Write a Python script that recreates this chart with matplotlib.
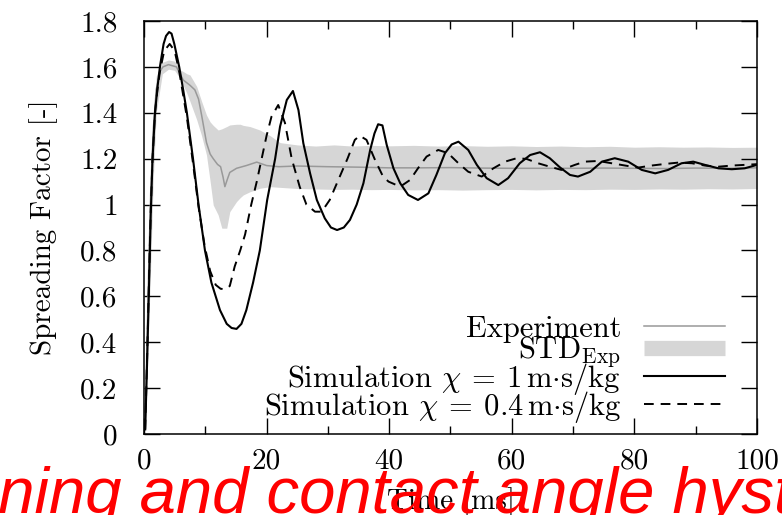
import numpy as np
import matplotlib
matplotlib.use("Agg")
from matplotlib import pyplot as plt
from matplotlib.lines import Line2D
from matplotlib.ticker import MultipleLocator, FuncFormatter

# data  (time in ms, spreading factor [-])
t_exp = [0.2, 0.5, 0.8, 1.1, 1.5, 2.0, 2.6, 3.1, 4.0, 5.3,
         6.4, 7.5, 8.3, 8.9, 9.4, 9.8, 10.2, 10.8, 11.3, 12.0,
         12.5, 12.9, 13.2, 13.6, 14.0, 15.1, 16.7, 18.4, 20.0, 22.0,
         25, 30, 35, 40, 45, 50, 55, 60, 65, 70,
         75, 80, 85, 90, 95, 100]
y_exp = [0.05, 0.40, 0.75, 1.05, 1.32, 1.50, 1.58, 1.60, 1.61, 1.60,
         1.543, 1.52, 1.50, 1.46, 1.39, 1.33, 1.27, 1.22, 1.20, 1.175,
         1.165, 1.12, 1.078, 1.11, 1.14, 1.158, 1.17, 1.185, 1.17, 1.165,
         1.168, 1.165, 1.163, 1.16, 1.16, 1.161, 1.159, 1.158, 1.158, 1.158,
         1.159, 1.158, 1.157, 1.159, 1.158, 1.16]

t_std = [0.2, 0.5, 1.0, 1.5, 2.0, 3.0, 4.0, 5.0, 5.9, 6.4,
         7.0, 7.5, 8.6, 9.4, 10.2, 10.8, 11.3, 12.1, 12.7, 13.5,
         14.0, 15.1, 15.7, 16.2, 17.3, 18.9, 20.6, 22.2, 25, 28,
         31, 34, 37, 40, 44, 48, 52, 56, 60, 64,
         68, 72, 76, 80, 84, 88, 92, 96, 100]
std_hi = [0.12, 0.50, 0.95, 1.38, 1.56, 1.62, 1.63, 1.625, 1.587, 1.58,
          1.57, 1.565, 1.515, 1.45, 1.39, 1.36, 1.345, 1.325, 1.33, 1.34,
          1.347, 1.35, 1.35, 1.345, 1.34, 1.325, 1.30, 1.27, 1.26, 1.255,
          1.26, 1.255, 1.258, 1.256, 1.258, 1.255, 1.257, 1.254, 1.256, 1.253,
          1.255, 1.252, 1.254, 1.25, 1.252, 1.25, 1.251, 1.249, 1.25]
std_lo = [0.0, 0.25, 0.65, 1.10, 1.40, 1.57, 1.59, 1.585, 1.55, 1.52,
          1.485, 1.45, 1.37, 1.30, 1.216, 1.10, 0.998, 0.955, 0.897, 0.897,
          0.969, 1.013, 1.03, 1.042, 1.056, 1.071, 1.078, 1.075, 1.07, 1.068,
          1.066, 1.067, 1.065, 1.066, 1.064, 1.065, 1.063, 1.065, 1.066, 1.064,
          1.066, 1.065, 1.067, 1.066, 1.068, 1.067, 1.069, 1.068, 1.07]

# simulation chi = 1 m s/kg
t_sim1 = [0.2, 0.5, 0.8, 1.1, 1.4, 1.8, 2.2, 2.6, 3.2, 3.6,
          4.1, 4.5, 4.95, 5.75, 6.4, 7.0, 8.0, 8.9, 9.95, 11.0,
          12.4, 13.5, 14.3, 15.1, 15.9, 16.7, 17.8, 18.9, 20.1, 21.4,
          22.2, 23.3, 24.3, 25.2, 26.0, 27.1, 28.2, 29.5, 30.5, 31.5,
          32.6, 33.6, 34.7, 35.8, 36.9, 37.6, 38.2, 38.9, 39.6, 40.7,
          41.8, 43.1, 44.7, 46.4, 47.7, 49.1, 50.2, 51.3, 52.9, 54.3,
          55.9, 57.8, 59.4, 61.3, 63.0, 64.6, 66.2, 67.9, 69.5, 70.8,
          72.8, 74.7, 76.8, 79.0, 81.2, 83.4, 85.5, 87.7, 89.6, 91.5,
          93.7, 95.9, 98.0, 100.0]
y_sim1 = [0.02, 0.30, 0.62, 0.95, 1.20, 1.40, 1.51, 1.60, 1.70, 1.735,
          1.752, 1.745, 1.70, 1.60, 1.50, 1.40, 1.20, 1.00, 0.80, 0.66,
          0.54, 0.48, 0.462, 0.458, 0.48, 0.54, 0.66, 0.80, 1.02, 1.20,
          1.34, 1.456, 1.495, 1.412, 1.267, 1.136, 1.02, 0.94, 0.90, 0.889,
          0.90, 0.933, 1.00, 1.093, 1.238, 1.31, 1.35, 1.345, 1.26, 1.158,
          1.093, 1.042, 1.02, 1.049, 1.129, 1.224, 1.262, 1.274, 1.238, 1.173,
          1.115, 1.085, 1.115, 1.18, 1.216, 1.228, 1.202, 1.161, 1.129, 1.122,
          1.143, 1.187, 1.202, 1.187, 1.151, 1.136, 1.151, 1.18, 1.187, 1.173,
          1.158, 1.154, 1.158, 1.173]

# simulation chi = 0.4 m s/kg
t_sim2 = [0.2, 0.5, 0.8, 1.1, 1.4, 1.8, 2.2, 2.6, 3.3, 4.2,
          5.0, 5.75, 7.0, 8.0, 8.9, 9.9, 10.8, 11.7, 12.5, 13.2,
          14.0, 14.8, 15.7, 16.5, 17.5, 18.4, 19.2, 20.0, 20.8, 21.9,
          23.0, 24.1, 25.4, 26.5, 27.9, 29.0, 30.3, 31.7, 33.2, 34.4,
          35.2, 36.3, 37.7, 39.0, 39.9, 41.8, 43.4, 44.7, 46.1, 48.0,
          49.6, 51.3, 52.9, 55.1, 57.0, 58.9, 60.8, 62.4, 64.3, 66.2,
          68.1, 70.3, 71.9, 74.1, 76.3, 78.5, 80.6, 82.8, 85.0, 87.2,
          89.4, 91.5, 93.7, 95.9, 98.0, 100.0]
y_sim2 = [0.02, 0.32, 0.65, 0.97, 1.20, 1.40, 1.50, 1.58, 1.67, 1.70,
          1.67, 1.58, 1.38, 1.18, 0.99, 0.82, 0.71, 0.65, 0.633, 0.631,
          0.645, 0.73, 0.80, 0.87, 1.00, 1.10, 1.20, 1.30, 1.383, 1.434,
          1.356, 1.20, 1.078, 1.00, 0.969, 0.969, 1.02, 1.107, 1.20, 1.282,
          1.30, 1.282, 1.194, 1.122, 1.10, 1.078, 1.107, 1.158, 1.209, 1.238,
          1.224, 1.18, 1.143, 1.122, 1.158, 1.187, 1.202, 1.199, 1.18, 1.165,
          1.151, 1.173, 1.187, 1.19, 1.18, 1.17, 1.161, 1.17, 1.177, 1.183,
          1.18, 1.17, 1.165, 1.17, 1.173, 1.176]

LABELS = ['Experiment', r'STD$_{\mathrm{Exp}}$',
          r'Simulation $\chi\: =\: 1\,\mathrm{m{\cdot}s/kg}$',
          r'Simulation $\chi\: =\: 0.4\,\mathrm{m{\cdot}s/kg}$']
OVERLAY = 'nning and contact angle hyst'

FS = 21
plt.rcParams['font.family'] = 'cmr10'
plt.rcParams['mathtext.fontset'] = 'cm'
plt.rcParams['axes.formatter.use_mathtext'] = True
plt.rcParams['lines.scale_dashes'] = False

fig = plt.figure(figsize=(7.82, 5.15), dpi=100)
ax = fig.add_axes([0.1841, 0.1573, 0.7839, 0.8019])

band_col = '#d6d6d6'
exp_col = '#999999'
ax.fill_between(t_std, std_lo, std_hi, color=band_col, lw=0)
ax.plot(t_exp, y_exp, color=exp_col, lw=1.1)
ax.plot(t_sim1, y_sim1, color='black', lw=1.5)
ax.plot(t_sim2, y_sim2, color='black', lw=1.4, dashes=(7, 5))

ax.set_xlim(0, 100)
ax.set_ylim(0, 1.8)
ax.xaxis.set_major_locator(MultipleLocator(20))
ax.xaxis.set_minor_locator(MultipleLocator(10))
ax.yaxis.set_major_locator(MultipleLocator(0.2))
fmt = FuncFormatter(lambda v, p: '%g' % round(v, 3))
ax.xaxis.set_major_formatter(fmt)
ax.yaxis.set_major_formatter(fmt)
ax.tick_params(which='both', direction='in', top=True, right=True,
               width=1.0, labelsize=FS)
ax.tick_params(which='major', length=11.5)
ax.tick_params(which='minor', length=5.8)
ax.tick_params(axis='x', pad=10)
ax.tick_params(axis='y', pad=19)
for sp in ax.spines.values():
    sp.set_linewidth(1.1)

ax.set_xlabel('Time [ms]', fontsize=FS, labelpad=9)
ax.set_ylabel('Spreading Factor [-]', fontsize=FS, labelpad=16)

# markerfirst=False -> rows are right aligned, so the label texts line up on the right
handles = [Line2D([], [], color=exp_col, lw=1.1),
           Line2D([], [], color=band_col, lw=11, solid_capstyle='butt'),
           Line2D([], [], color='black', lw=1.5),
           Line2D([], [], color='black', lw=1.4, dashes=(7, 5))]
leg = ax.legend(handles, LABELS, loc='lower right', bbox_to_anchor=(0.948, 0.022),
                frameon=False, markerfirst=False, fontsize=22, handlelength=2.65,
                handletextpad=0.75, labelspacing=-0.27, borderpad=0, borderaxespad=0)

fig.text(-0.049, 0.004, OVERLAY, color='#ff0000', fontsize=47, style='italic',
         family='Liberation Sans', ha='left', va='baseline')

fig.savefig('out.png', dpi=100)
